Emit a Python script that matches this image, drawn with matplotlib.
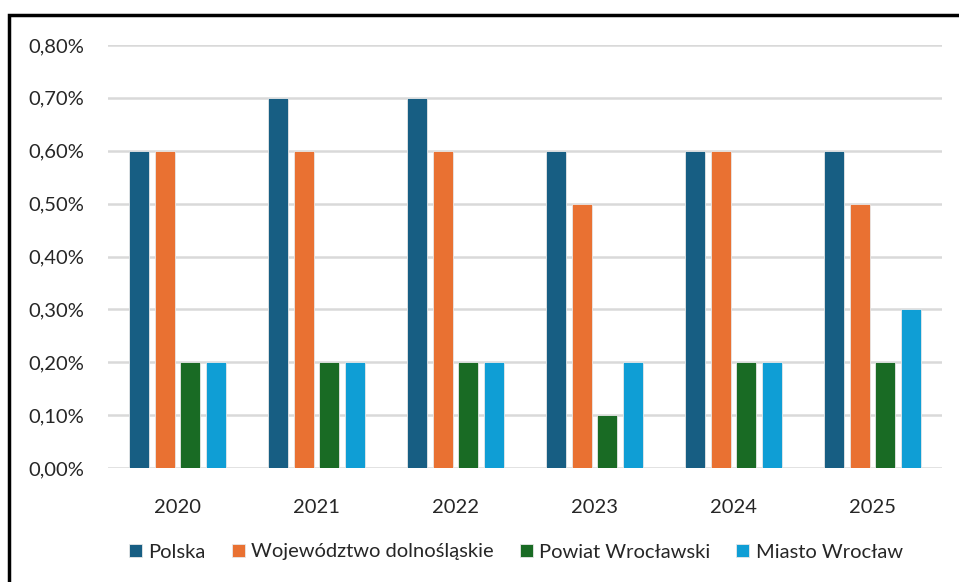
import numpy as np
import matplotlib.pyplot as plt
from matplotlib.patches import Rectangle
from matplotlib.ticker import FuncFormatter

# dane
lata = ['2020', '2021', '2022', '2023', '2024', '2025']
serie = ['Polska', 'Województwo dolnośląskie', 'Powiat Wrocławski', 'Miasto Wrocław']
polska = [0.6, 0.7, 0.7, 0.6, 0.6, 0.6]
wojewodztwo = [0.6, 0.6, 0.6, 0.5, 0.6, 0.5]
powiat = [0.2, 0.2, 0.2, 0.1, 0.2, 0.2]
miasto = [0.2, 0.2, 0.2, 0.2, 0.2, 0.3]
kolory = ['#175E83', '#E97132', '#196B24', '#0F9ED5']

plt.rcParams['font.family'] = ['Lato', 'DejaVu Sans']

fig = plt.figure(figsize=(9.59, 5.82), dpi=100)
ax = fig.add_axes([108 / 959, 1 - 468 / 582, 834 / 959, 423 / 582])

x = np.arange(len(lata))
szer = 0.145
krok = 0.183
for i, (nazwa, wart) in enumerate(zip(serie, [polska, wojewodztwo, powiat, miasto])):
    ax.bar(x + (i - 1.5) * krok, wart, width=szer, color=kolory[i],
           edgecolor='#e8e8e8', linewidth=0.6, label=nazwa, zorder=3)

ax.set_xlim(-0.5, len(lata) - 0.5)
ax.set_ylim(0, 0.8)
ax.set_yticks(np.arange(0, 0.81, 0.1))
ax.yaxis.set_major_formatter(FuncFormatter(lambda v, p: f'{v:.2f}%'.replace('.', ',')))
ax.set_xticks(x)
ax.set_xticklabels(lata)
ax.grid(axis='y', color='#d9d9d9', linewidth=1.8, zorder=0)
for s in ax.spines.values():
    s.set_visible(False)
ax.tick_params(length=0, labelsize=14.5, colors='#262626')
ax.tick_params(axis='y', pad=17)
ax.tick_params(axis='x', pad=22)

fig.legend(loc='center', bbox_to_anchor=(0.538, 1 - 552 / 582), ncol=4, frameon=False,
           fontsize=14.5, handlelength=0.65, handleheight=0.65, handletextpad=0.3,
           columnspacing=1.3, labelcolor='#262626')

# ramka
fig.patches.append(Rectangle((9 / 959, -0.05), 1.2, 1 - 15 / 582 + 0.05,
                             transform=fig.transFigure, fill=False,
                             edgecolor='black', linewidth=2.5))

fig.savefig('out.png', dpi=100)
